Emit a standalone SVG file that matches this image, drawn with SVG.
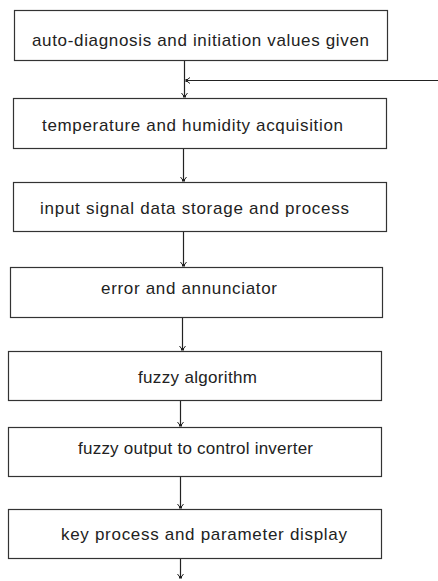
<svg xmlns="http://www.w3.org/2000/svg" width="438" height="581" viewBox="0 0 438 581">
  <defs>
    <marker id="arrow" viewBox="-5 -5 10 10" markerWidth="10" markerHeight="10" refX="0" refY="0" orient="auto" markerUnits="userSpaceOnUse">
      <path d="M-4,-3 L0,0 L-4,3" fill="none" stroke="#222" stroke-width="1"/>
      <rect x="-2" y="-1.5" width="2.5" height="3" fill="#222"/>
    </marker>
    <style>
      .box { fill: #fff; stroke: #333; stroke-width: 1.2; }
      .label { font-family: "Liberation Sans", Arial, sans-serif; font-size: 17px; fill: #222; }
      .link { fill: none; stroke: #222; stroke-width: 1.2; marker-end: url(#arrow); }
    </style>
  </defs>
  <rect width="438" height="581" fill="#fff"/>

  <g id="connectors">
    <line class="link" x1="184.5" y1="61" x2="184.5" y2="97"/>
    <line class="link" x1="438" y1="80.5" x2="186" y2="80.5"/>
    <line class="link" x1="183.5" y1="149" x2="183.5" y2="181"/>
    <line class="link" x1="183.5" y1="232" x2="183.5" y2="266"/>
    <line class="link" x1="182.5" y1="318" x2="182.5" y2="350"/>
    <line class="link" x1="180.5" y1="401" x2="180.5" y2="426"/>
    <line class="link" x1="180.5" y1="477" x2="180.5" y2="508"/>
    <line class="link" x1="180.5" y1="559" x2="180.5" y2="578"/>
  </g>

  <g id="node-init">
    <rect class="box" x="14.5" y="10.5" width="373" height="50"/>
    <text class="label" x="32" y="46" textLength="337" lengthAdjust="spacing">auto-diagnosis and initiation values given</text>
  </g>
  <g id="node-acquisition">
    <rect class="box" x="13.5" y="98.5" width="373" height="50"/>
    <text class="label" x="42" y="131" textLength="301" lengthAdjust="spacing">temperature and humidity acquisition</text>
  </g>
  <g id="node-storage">
    <rect class="box" x="13.5" y="182.5" width="373" height="49"/>
    <text class="label" x="40" y="214" textLength="309" lengthAdjust="spacing">input signal data storage and process</text>
  </g>
  <g id="node-error">
    <rect class="box" x="10.5" y="267.5" width="372" height="50"/>
    <text class="label" x="101" y="294" textLength="176" lengthAdjust="spacing">error and annunciator</text>
  </g>
  <g id="node-fuzzy">
    <rect class="box" x="8.5" y="351.5" width="373" height="49"/>
    <text class="label" x="138" y="383" textLength="119" lengthAdjust="spacing">fuzzy algorithm</text>
  </g>
  <g id="node-output">
    <rect class="box" x="8.5" y="427.5" width="373" height="49"/>
    <text class="label" x="78" y="454" textLength="235" lengthAdjust="spacing">fuzzy output to control inverter</text>
  </g>
  <g id="node-display">
    <rect class="box" x="8.5" y="509.5" width="373" height="49"/>
    <text class="label" x="61" y="540" textLength="286" lengthAdjust="spacing">key process and parameter display</text>
  </g>
</svg>
